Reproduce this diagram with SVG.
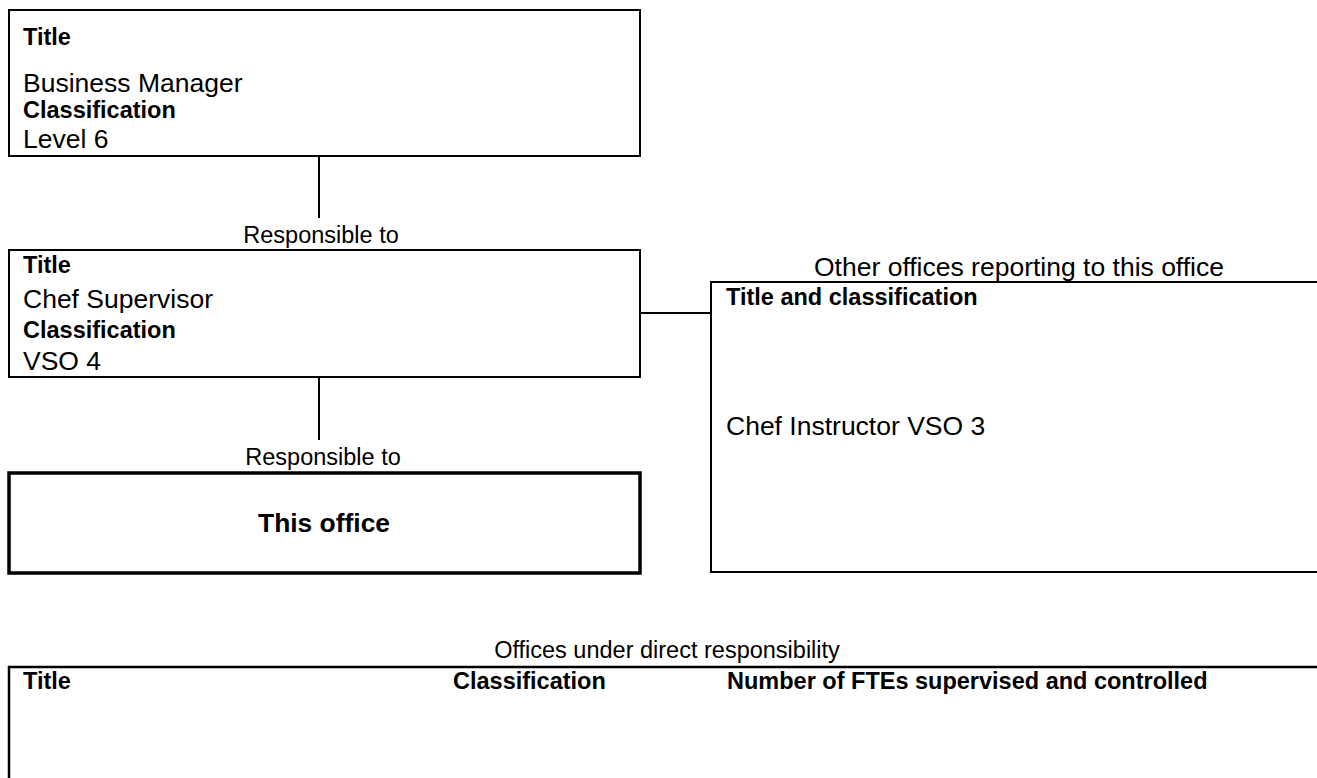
<svg xmlns="http://www.w3.org/2000/svg" width="1317" height="778" viewBox="0 0 1317 778">
<style>
text{font-family:"Liberation Sans",Arial,sans-serif;fill:#000}
.b{font-weight:bold;font-size:23.5px}
.r{font-size:26.5px}
.lbl{font-size:23.5px}
.box{fill:#fff;stroke:#000;stroke-width:2}
.conn line{stroke:#000;stroke-width:2}
</style>
<rect width="1317" height="778" fill="#fff"/>
<g id="connectors" class="conn">
<line x1="319" y1="157" x2="319" y2="218"/>
<line x1="319" y1="377" x2="319" y2="440"/>
<line x1="640" y1="313" x2="711" y2="313"/>
</g>
<g id="node-business-manager">
<rect class="box" x="9" y="10" width="631" height="146"/>
<text class="b" x="23" y="45">Title</text>
<text class="r" x="23" y="92">Business Manager</text>
<text class="b" x="23" y="118">Classification</text>
<text class="r" x="23" y="148">Level 6</text>
</g>
<text class="lbl" x="321" y="243" text-anchor="middle">Responsible to</text>
<g id="node-chef-supervisor">
<rect class="box" x="9" y="250" width="631" height="127"/>
<text class="b" x="23" y="273">Title</text>
<text class="r" x="23" y="308">Chef Supervisor</text>
<text class="b" x="23" y="338">Classification</text>
<text class="r" x="23" y="370">VSO 4</text>
</g>
<text class="lbl" x="323" y="465" text-anchor="middle">Responsible to</text>
<g id="node-this-office">
<rect x="9" y="473" width="631" height="100" fill="#fff" stroke="#000" stroke-width="3.5"/>
<text x="324" y="532" text-anchor="middle" style="font-weight:bold;font-size:26.4px">This office</text>
</g>
<text class="r" x="1019" y="276" text-anchor="middle">Other offices reporting to this office</text>
<g id="node-other-offices">
<rect class="box" x="711" y="282" width="630" height="290"/>
<text class="b" x="726" y="305">Title and classification</text>
<text class="r" x="726" y="435">Chef Instructor VSO 3</text>
</g>
<text class="lbl" x="667" y="658" text-anchor="middle">Offices under direct responsibility</text>
<g id="node-direct-offices">
<rect x="9" y="667" width="1340" height="140" fill="#fff" stroke="#000" stroke-width="2.5"/>
<text class="b" x="23" y="689">Title</text>
<text class="b" x="453" y="689">Classification</text>
<text class="b" x="727" y="689">Number of FTEs supervised and controlled</text>
</g>
</svg>
